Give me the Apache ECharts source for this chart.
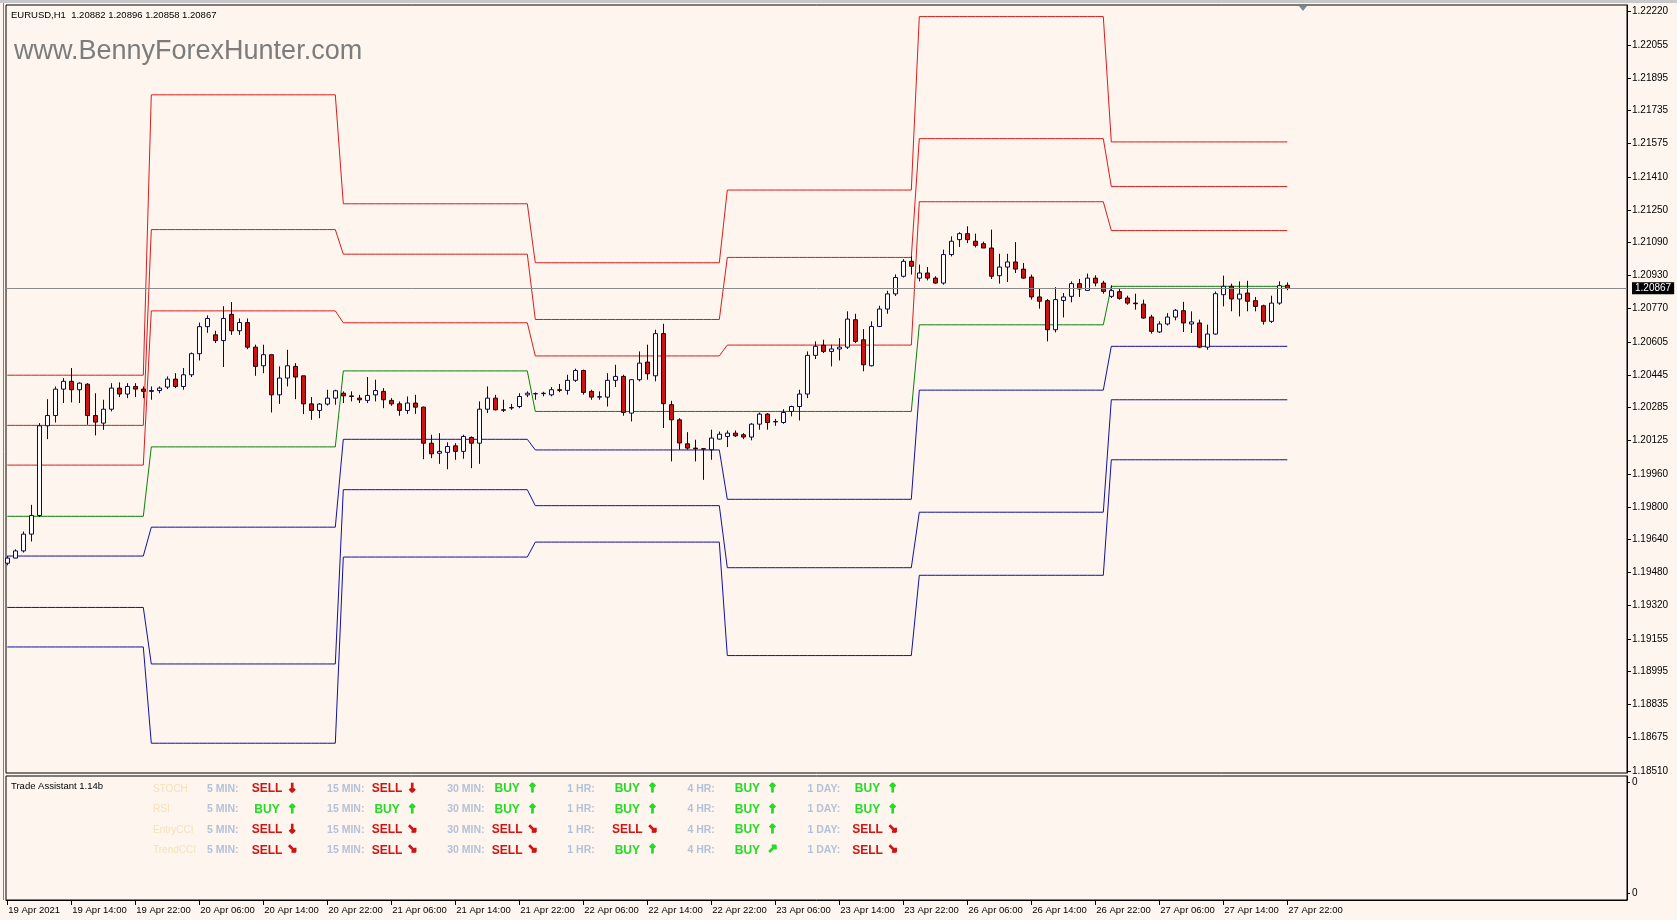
<!DOCTYPE html>
<html><head><meta charset="utf-8">
<script src="https://cdn.jsdelivr.net/npm/echarts@6/dist/echarts.min.js"></script>
<style>html,body{margin:0;padding:0;background:#fdf5ee;}#c{width:1677px;height:920px;}</style>
</head><body><div id="c"></div><script>
// ---------- text ----------
const symbolTitle = 'EURUSD,H1  1.20882 1.20896 1.20858 1.20867';
const watermark = 'www.BennyForexHunter.com';
const indicatorTitle = 'Trade Assistant 1.14b';
const timeLabels = ['19 Apr 2021','19 Apr 14:00','19 Apr 22:00','20 Apr 06:00','20 Apr 14:00','20 Apr 22:00','21 Apr 06:00','21 Apr 14:00','21 Apr 22:00','22 Apr 06:00','22 Apr 14:00','22 Apr 22:00','23 Apr 06:00','23 Apr 14:00','23 Apr 22:00','26 Apr 06:00','26 Apr 14:00','26 Apr 22:00','27 Apr 06:00','27 Apr 14:00','27 Apr 22:00'];
const labelEvery = 8; // bars between time labels
const priceTicks = [1.22220,1.22055,1.21895,1.21735,1.21575,1.21410,1.21250,1.21090,1.20930,1.20770,1.20605,1.20445,1.20285,1.20125,1.19960,1.19800,1.19640,1.19480,1.19320,1.19155,1.18995,1.18835,1.18675,1.18510];
const lastPrice = 1.20867;

// ---------- hourly candles (bar 0 = 19 Apr 06:00) ----------
const opens = [
1.19525,1.19550,1.19585,1.19667,1.19758,1.20196,1.20246,1.20375,1.20413,1.20372,
1.20399,1.20246,1.20209,1.20277,1.20380,1.20351,1.20388,1.20375,1.20364,1.20368,
1.20385,1.20424,1.20388,1.20445,1.20548,1.20680,1.20640,1.20612,1.20740,1.20660,
1.20700,1.20580,1.20489,1.20543,1.20347,1.20429,1.20486,1.20440,1.20303,1.20271,
1.20302,1.20331,1.20355,1.20342,1.20331,1.20320,1.20347,1.20364,1.20320,1.20303,
1.20271,1.20307,1.20287,1.20111,1.20062,1.20066,1.20098,1.20071,1.20139,1.20111,
1.20277,1.20331,1.20274,1.20283,1.20290,1.20347,1.20352,1.20353,1.20347,1.20372,
1.20369,1.20418,1.20466,1.20364,1.20336,1.20336,1.20418,1.20437,1.20258,1.20421,
1.20507,1.20440,1.20646,1.20299,1.20225,1.20108,1.20087,1.20084,1.20079,1.20131,
1.20144,1.20160,1.20152,1.20141,1.20204,1.20253,1.20215,1.20212,1.20266,1.20290,
1.20351,1.20540,1.20589,1.20559,1.20571,1.20580,1.20714,1.20616,1.20489,1.20681,
1.20766,1.20840,1.20926,1.20999,1.20917,1.20942,1.20917,1.20893,1.21032,1.21105,
1.21134,1.21097,1.21085,1.21064,1.20929,1.20971,1.20996,1.20961,1.20922,1.20825,
1.20807,1.20665,1.20808,1.20828,1.20890,1.20857,1.20917,1.20893,1.20828,1.20851,
1.20820,1.20795,1.20790,1.20727,1.20654,1.20693,1.20727,1.20758,1.20693,1.20698,
1.20580,1.20644,1.20836,1.20877,1.20815,1.20844,1.20807,1.20782,1.20706,1.20795,
1.20882];
const highs = [
1.19560,1.19593,1.19680,1.19810,1.20209,1.20326,1.20388,1.20429,1.20478,1.20408,
1.20404,1.20355,1.20323,1.20404,1.20408,1.20404,1.20404,1.20388,1.20388,1.20388,
1.20437,1.20453,1.20478,1.20554,1.20700,1.20735,1.20660,1.20780,1.20800,1.20720,
1.20720,1.20592,1.20592,1.20543,1.20486,1.20567,1.20502,1.20440,1.20336,1.20307,
1.20372,1.20372,1.20364,1.20364,1.20347,1.20434,1.20421,1.20380,1.20331,1.20315,
1.20339,1.20347,1.20290,1.20152,1.20160,1.20115,1.20111,1.20152,1.20144,1.20315,
1.20388,1.20347,1.20323,1.20303,1.20355,1.20364,1.20359,1.20362,1.20385,1.20400,
1.20445,1.20475,1.20470,1.20372,1.20364,1.20453,1.20494,1.20445,1.20424,1.20559,
1.20592,1.20665,1.20694,1.20318,1.20233,1.20165,1.20128,1.20087,1.20177,1.20168,
1.20173,1.20173,1.20160,1.20209,1.20261,1.20258,1.20230,1.20277,1.20294,1.20372,
1.20559,1.20608,1.20616,1.20592,1.20624,1.20755,1.20743,1.20668,1.20706,1.20782,
1.20855,1.20935,1.21010,1.21023,1.20983,1.20971,1.20926,1.21056,1.21121,1.21141,
1.21170,1.21134,1.21095,1.21154,1.21036,1.21036,1.21093,1.20991,1.20934,1.20864,
1.20815,1.20873,1.20844,1.20901,1.20913,1.20939,1.20931,1.20904,1.20882,1.20864,
1.20831,1.20841,1.20812,1.20738,1.20706,1.20746,1.20766,1.20801,1.20755,1.20714,
1.20690,1.20852,1.20929,1.20890,1.20901,1.20904,1.20825,1.20787,1.20831,1.20901,
1.20896];
const lows = [
1.19515,1.19549,1.19577,1.19631,1.19750,1.20131,1.20212,1.20307,1.20310,1.20307,
1.20201,1.20149,1.20176,1.20266,1.20336,1.20331,1.20336,1.20331,1.20323,1.20355,
1.20375,1.20380,1.20372,1.20434,1.20515,1.20650,1.20600,1.20483,1.20640,1.20640,
1.20570,1.20440,1.20453,1.20261,1.20303,1.20388,1.20326,1.20253,1.20225,1.20233,
1.20295,1.20299,1.20307,1.20315,1.20307,1.20307,1.20315,1.20282,1.20294,1.20245,
1.20254,1.20254,1.20033,1.20038,1.20010,1.19984,1.20030,1.20035,1.19989,1.20010,
1.20258,1.20271,1.20263,1.20274,1.20282,1.20336,1.20323,1.20340,1.20340,1.20360,
1.20348,1.20410,1.20348,1.20323,1.20323,1.20290,1.20385,1.20245,1.20217,1.20413,
1.20421,1.20413,1.20185,1.20022,1.20079,1.20079,1.20022,1.19932,1.20030,1.20128,
1.20092,1.20141,1.20131,1.20125,1.20177,1.20177,1.20196,1.20206,1.20242,1.20222,
1.20331,1.20522,1.20551,1.20486,1.20515,1.20571,1.20600,1.20462,1.20486,1.20678,
1.20743,1.20830,1.20920,1.20934,1.20901,1.20906,1.20890,1.20885,1.21023,1.21069,
1.21088,1.21067,1.21064,1.20913,1.20890,1.20898,1.20942,1.20914,1.20812,1.20768,
1.20608,1.20652,1.20725,1.20799,1.20825,1.20856,1.20877,1.20841,1.20820,1.20812,
1.20787,1.20763,1.20719,1.20646,1.20649,1.20686,1.20711,1.20654,1.20649,1.20575,
1.20567,1.20641,1.20779,1.20755,1.20730,1.20755,1.20755,1.20690,1.20698,1.20787,
1.20858];
const closes = [
1.19550,1.19585,1.19667,1.19758,1.20196,1.20246,1.20375,1.20413,1.20372,1.20404,
1.20246,1.20214,1.20277,1.20380,1.20351,1.20388,1.20375,1.20364,1.20368,1.20380,
1.20424,1.20388,1.20445,1.20548,1.20680,1.20720,1.20612,1.20720,1.20660,1.20700,
1.20580,1.20486,1.20543,1.20347,1.20429,1.20489,1.20434,1.20303,1.20271,1.20302,
1.20331,1.20367,1.20342,1.20339,1.20323,1.20344,1.20368,1.20323,1.20303,1.20271,
1.20307,1.20287,1.20111,1.20059,1.20071,1.20095,1.20071,1.20144,1.20111,1.20277,
1.20331,1.20274,1.20272,1.20285,1.20339,1.20355,1.20353,1.20355,1.20372,1.20369,
1.20418,1.20466,1.20359,1.20336,1.20338,1.20418,1.20437,1.20261,1.20421,1.20502,
1.20450,1.20646,1.20304,1.20225,1.20112,1.20087,1.20084,1.20082,1.20136,1.20155,
1.20160,1.20147,1.20141,1.20204,1.20253,1.20212,1.20217,1.20261,1.20290,1.20351,
1.20540,1.20584,1.20559,1.20571,1.20580,1.20717,1.20608,1.20494,1.20681,1.20766,
1.20840,1.20920,1.20999,1.20975,1.20942,1.20917,1.20893,1.21032,1.21097,1.21134,
1.21105,1.21077,1.21064,1.20926,1.20971,1.20996,1.20961,1.20917,1.20825,1.20804,
1.20665,1.20812,1.20825,1.20890,1.20864,1.20917,1.20893,1.20852,1.20856,1.20818,
1.20795,1.20792,1.20722,1.20657,1.20693,1.20727,1.20760,1.20698,1.20703,1.20580,
1.20644,1.20841,1.20877,1.20815,1.20839,1.20804,1.20779,1.20706,1.20795,1.20880,
1.20867];

// ---------- daily levels (first bar index of each day) ----------
const dayStartBars = [0, 18, 42, 66, 90, 114, 138];
const res3  = [1.20443, 1.21812, 1.21280, 1.20992, 1.21347, 1.22194, 1.21582];
const res2  = [1.20198, 1.21154, 1.21034, 1.20715, 1.21018, 1.21598, 1.21364];
const res1  = [1.20004, 1.20757, 1.20699, 1.20537, 1.20590, 1.21290, 1.21149];
const pivot = [1.19754, 1.20093, 1.20464, 1.20266, 1.20266, 1.20689, 1.20877];
const sup1  = [1.19560, 1.19701, 1.20130, 1.20078, 1.19837, 1.20370, 1.20584];
const sup2  = [1.19309, 1.19033, 1.19884, 1.19806, 1.19503, 1.19774, 1.20323];
const sup3  = [1.19116, 1.18646, 1.19555, 1.19628, 1.19074, 1.19466, 1.20030];

// ---------- Trade Assistant panel ----------
const indNames = ['STOCH', 'RSI', 'EntryCCI', 'TrendCCI'];
const tfNames = ['5 MIN:', '15 MIN:', '30 MIN:', '1 HR:', '4 HR:', '1 DAY:'];
const sigStoch    = ['SELL','SELL','BUY','BUY','BUY','BUY'];
const arrStoch    = ['↓','↓','↑','↑','↑','↑'];
const sigRsi      = ['BUY','BUY','BUY','BUY','BUY','BUY'];
const arrRsi      = ['↑','↑','↑','↑','↑','↑'];
const sigEntryCci = ['SELL','SELL','SELL','SELL','BUY','SELL'];
const arrEntryCci = ['↓','↘','↘','↘','↑','↘'];
const sigTrendCci = ['SELL','SELL','SELL','BUY','BUY','SELL'];
const arrTrendCci = ['↘','↘','↘','↑','↗','↘'];

// ---------- layout ----------
const W = 1677, H = 920;
const PANE_L = 6, PANE_R = 1627, MAIN_T = 5, MAIN_B = 773, IND_T = 776, IND_B = 900;
const BAR0_X = 7.3, BAR_PX = 8;
const xMin = (PANE_L - BAR0_X) / BAR_PX, xMax = (PANE_R - BAR0_X) / BAR_PX;
const yMin = 1.185006, yMax = 1.222506;
const BG = '#fdf5ee';
const FONT = '"Liberation Sans", Arial, sans-serif';

const candleData = opens.map((o, i) => [i, o, closes[i], lows[i], highs[i]]);
function levelSeries(levels) {
  return opens.map((_, i) => {
    let d = 0;
    for (let k = 0; k < dayStartBars.length; k++) if (i >= dayStartBars[k]) d = k;
    return [i, levels[d]];
  });
}
const RED = '#d81e1e', GREEN = '#0b800b', BLUE = '#1212a0';
const levelDefs = [[res3, RED], [res2, RED], [res1, RED], [pivot, GREEN], [sup1, BLUE], [sup2, BLUE], [sup3, BLUE]];
const lineSeries = levelDefs.map(([lv, col]) => ({
  type: 'line', xAxisIndex: 0, yAxisIndex: 0, data: levelSeries(lv), showSymbol: false, symbol: 'none',
  lineStyle: { color: col, width: 1 }, z: 2, silent: true
}));
// current price line attached to the pivot line series
lineSeries[3].markLine = { silent: true, symbol: ['none', 'none'], animation: false, precision: 5,
  lineStyle: { color: '#8a8a8a', width: 1, type: 'solid' },
  label: { show: true, position: 'end', formatter: lastPrice.toFixed(5), backgroundColor: '#000', color: '#fff', padding: [1, 3, 1, 3], fontFamily: FONT, fontSize: 10, distance: 5 },
  data: [{ yAxis: lastPrice }] };

const xLabelValues = timeLabels.map((_, k) => k * labelEvery);

// panel texts
const signalRows = [[sigStoch, arrStoch], [sigRsi, arrRsi], [sigEntryCci, arrEntryCci], [sigTrendCci, arrTrendCci]];
const ROW_Y0 = 789, ROW_DY = 20.4, NAME_X = 153, COL_X0 = 207, COL_DX = 120.1, SIG_DX = 60, ARR_DX = 85;
const graphics = [];
function txt(x, y, text, font, fill, align, stroke) {
  const style = { x, y, text, font, fill, align: align || 'left', verticalAlign: 'middle', textAlign: align || 'left', textVerticalAlign: 'middle' };
  if (stroke) { style.stroke = fill; style.lineWidth = stroke; }
  graphics.push({ type: 'text', silent: true, z: 50, style });
}
txt(11, 15, symbolTitle, '9.5px ' + FONT, '#000');
txt(14, 52, watermark, '27px ' + FONT, '#7c7c7c');
txt(11, 786, indicatorTitle, '9.5px ' + FONT, '#000');
indNames.forEach((nm, r) => {
  const y = ROW_Y0 + r * ROW_DY;
  txt(NAME_X, y, nm, '10px ' + FONT, '#f3e3b8');
  tfNames.forEach((tf, c) => {
    const x = COL_X0 + c * COL_DX;
    txt(x, y, tf, 'bold 10.5px ' + FONT, '#b3c2d8');
    const s = signalRows[r][0][c];
    const col = s === 'SELL' ? '#d01414' : '#25dc25';
    txt(x + SIG_DX, y, s, 'bold 12px ' + FONT, col, 'center');
    txt(x + ARR_DX, y, signalRows[r][1][c], 'bold 12px "DejaVu Sans", sans-serif', col, 'center', 1.2);
  });
});
// window frame bits and chart-shift marker
graphics.push({ type: 'rect', silent: true, z: 40, shape: { x: 0, y: 0, width: W, height: 3 }, style: { fill: '#c8c8c8' } });
graphics.push({ type: 'line', silent: true, z: 40, shape: { x1: 3.5, y1: 3, x2: 3.5, y2: IND_B }, style: { stroke: '#808080', lineWidth: 1 } });
graphics.push({ type: 'polygon', silent: true, z: 40, shape: { points: [[1299, 6], [1307, 6], [1303, 11]] }, style: { fill: '#7d8a96' } });

const option = {
  animation: false,
  backgroundColor: BG,
  grid: [
    { left: PANE_L, top: MAIN_T, width: PANE_R - PANE_L, height: MAIN_B - MAIN_T, show: true, borderColor: '#000', borderWidth: 1, backgroundColor: BG },
    { left: PANE_L, top: IND_T, width: PANE_R - PANE_L, height: IND_B - IND_T, show: true, borderColor: '#000', borderWidth: 1, backgroundColor: BG }
  ],
  xAxis: [
    { type: 'value', gridIndex: 0, min: xMin, max: xMax, axisLine: { show: false }, axisTick: { show: false }, axisLabel: { show: false }, splitLine: { show: false } },
    { type: 'value', gridIndex: 1, min: xMin, max: xMax, position: 'bottom',
      axisLine: { show: true, onZero: false, lineStyle: { color: '#000', width: 1 } },
      axisTick: { show: true, inside: false, length: 5, customValues: xLabelValues, lineStyle: { color: '#000' } },
      axisLabel: { show: true, customValues: xLabelValues, formatter: v => timeLabels[Math.round(v / labelEvery)] || '', align: 'left', margin: 5, padding: [0, 0, 0, 1],
        fontFamily: FONT, fontSize: 9.5, color: '#000', hideOverlap: false },
      splitLine: { show: false } }
  ],
  yAxis: [
    { type: 'value', gridIndex: 0, position: 'right', min: yMin, max: yMax,
      axisLine: { show: true, onZero: false, lineStyle: { color: '#000', width: 1 } },
      axisTick: { show: true, inside: false, length: 4, customValues: priceTicks, lineStyle: { color: '#000' } },
      axisLabel: { show: true, customValues: priceTicks, formatter: v => v.toFixed(5), margin: 5, fontFamily: FONT, fontSize: 10, color: '#000', hideOverlap: false },
      splitLine: { show: false } },
    { type: 'value', gridIndex: 1, position: 'right', min: -0.063, max: 1.054,
      axisLine: { show: true, onZero: false, lineStyle: { color: '#000', width: 1 } },
      axisTick: { show: true, inside: false, length: 3, customValues: [0, 1], lineStyle: { color: '#000' } },
      axisLabel: { show: true, customValues: [0, 1], formatter: () => '0', margin: 5, fontFamily: FONT, fontSize: 10, color: '#000' },
      splitLine: { show: false } }
  ],
  series: [
    ...lineSeries,
    { type: 'candlestick', xAxisIndex: 0, yAxisIndex: 0, data: candleData, encode: { x: 0, y: [1, 2, 3, 4] },
      barWidth: 4, z: 3, silent: true,
      itemStyle: { color: '#ffffff', color0: '#c81414', borderColor: '#0a0a50', borderColor0: '#2a0000', borderWidth: 1 } }
  ],
  graphic: graphics
};
const chart = echarts.init(document.getElementById('c'), null, { renderer: 'canvas', width: W, height: H });
chart.setOption(option);
</script></body></html>
